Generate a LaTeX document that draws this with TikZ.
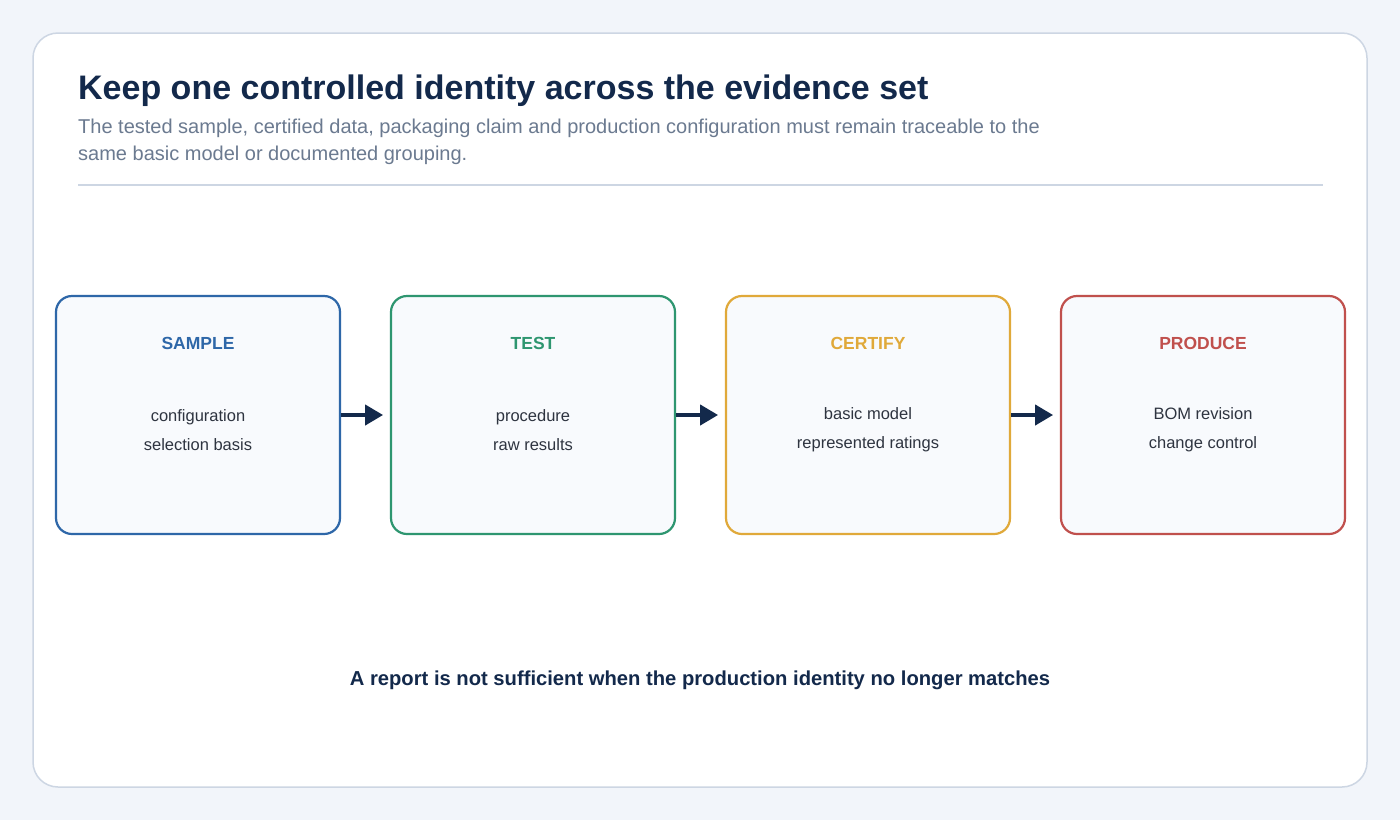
\documentclass[tikz,border=0pt]{standalone}
\usepackage{fontspec}
\setmainfont{Liberation Sans}
\usetikzlibrary{positioning,arrows.meta}
\definecolor{navy}{HTML}{13294B}
\definecolor{subgray}{HTML}{6B7A90}
\definecolor{bodytext}{HTML}{2E3440}
\definecolor{pagebg}{HTML}{F2F5FA}
\definecolor{cardline}{HTML}{CDD6E3}
\definecolor{boxfill}{HTML}{F8FAFD}
\definecolor{cblue}{HTML}{2E67A8}
\definecolor{cgreen}{HTML}{2E9670}
\definecolor{cyellow}{HTML}{E0A93A}
\definecolor{cred}{HTML}{C0504D}
\tikzset{
  stage/.style={draw=#1, line width=2.2pt, fill=boxfill, rounded corners=16pt,
    minimum width=284pt, minimum height=238pt, inner sep=0pt},
  head/.style={text=#1, font=\bfseries\fontsize{17.5}{21}\selectfont},
  body/.style={text=bodytext, font=\fontsize{16.5}{29}\selectfont, align=center},
  link/.style={-{Triangle[length=18pt,width=20pt]}, line width=4pt, draw=navy}
}
\begin{document}
\begin{tikzpicture}[x=1pt, y=-1pt, line join=round]
\useasboundingbox[fill=pagebg] (0,0) rectangle (1400,820);
\draw[cardline, line width=1.5pt, fill=white, rounded corners=25pt] (33,33) rectangle (1367,787);
\node[anchor=base west, inner sep=0pt, text=navy, font=\bfseries\fontsize{34}{40}\selectfont] (title) at (78,99) {Keep one controlled identity across the evidence set};
\node[anchor=north west, text=subgray, font=\fontsize{20}{27}\selectfont, align=left, inner sep=0pt] (sub) at (78,119)
  {The tested sample, certified data, packaging claim and production configuration must remain traceable to the\\same basic model or documented grouping.};
\draw[cardline, line width=1.5pt] (78,185) -- (1323,185);
% stages
\node[stage=cblue] (sample) at (198,415) {};
\node[stage=cgreen] (test) at (533,415) {};
\node[stage=cyellow] (certify) at (868,415) {};
\node[stage=cred] (produce) at (1203,415) {};
\foreach \n/\c/\t/\a/\b in {sample/cblue/SAMPLE/configuration/selection basis,
  test/cgreen/TEST/procedure/raw results,
  certify/cyellow/CERTIFY/basic model/represented ratings,
  produce/cred/PRODUCE/BOM revision/change control}{
  \node[head=\c] (\n-head) at ([yshift=72pt]\n.center) {\t};
  \node[body] (\n-body) at ([yshift=-15pt]\n.center) {\a\\\b};
}
\draw[link] (sample.east) -- ([xshift=42pt]sample.east);
\draw[link] (test.east) -- ([xshift=42pt]test.east);
\draw[link] (certify.east) -- ([xshift=42pt]certify.east);
\node[text=navy, font=\bfseries\fontsize{20.2}{24}\selectfont] (note) at (700,680) {A report is not sufficient when the production identity no longer matches};
\end{tikzpicture}
\end{document}
